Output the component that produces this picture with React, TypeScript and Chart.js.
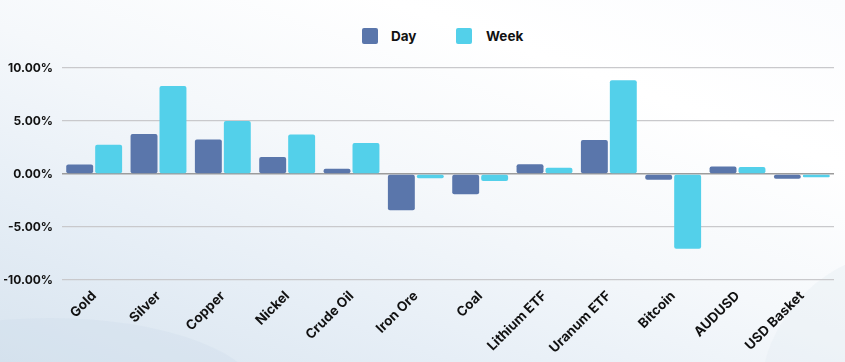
import React, { useEffect, useRef } from "react";
import { Chart, registerables } from "chart.js";

Chart.register(...registerables);

const categories = ["Gold", "Silver", "Copper", "Nickel", "Crude Oil", "Iron Ore", "Coal", "Lithium ETF", "Uranum ETF", "Bitcoin", "AUDUSD", "USD Basket"];
const dayValues = [0.89, 3.77, 3.26, 1.61, 0.49, -3.42, -1.92, 0.92, 3.2, -0.55, 0.7, -0.45];
const weekValues = [2.77, 8.3, 5.0, 3.73, 2.93, -0.39, -0.67, 0.58, 8.84, -7.05, 0.67, -0.3];
const yTicks = [-10, -5, 0, 5, 10];

const DAY_COLOR = "#5a76ab";
const WEEK_COLOR = "#53d0ea";
const FONT = "Inter, 'Noto Sans', sans-serif";

export default function App() {
  const ref = useRef<HTMLCanvasElement | null>(null);

  useEffect(() => {
    if (!ref.current) return;
    const chart = new Chart(ref.current, {
      type: "bar",
      data: {
        labels: categories,
        datasets: [
          { label: "Day", data: dayValues, backgroundColor: DAY_COLOR, borderRadius: 2, borderSkipped: false, categoryPercentage: 0.9, barPercentage: 0.93 },
          { label: "Week", data: weekValues, backgroundColor: WEEK_COLOR, borderRadius: 2, borderSkipped: false, categoryPercentage: 0.9, barPercentage: 0.93 },
        ],
      },
      options: {
        responsive: false,
        animation: false,
        layout: { padding: { top: 68, right: 11, left: 4, bottom: 0 } },
        plugins: { legend: { display: false }, tooltip: { enabled: false } },
        scales: {
          x: {
            grid: { display: false },
            border: { display: false },
            afterFit: (axis: any) => {
              axis.height = 82;
            },
            ticks: {
              color: "#111",
              font: { family: FONT, size: 13.5, weight: "bold" },
              maxRotation: 45,
              minRotation: 45,
              padding: 0,
            },
          },
          y: {
            min: -10,
            max: 10,
            afterBuildTicks: (axis: any) => {
              axis.ticks = yTicks.map((v) => ({ value: v }));
            },
            afterFit: (axis: any) => {
              axis.width = 58;
            },
            grid: {
              color: (ctx: any) => (ctx.tick && ctx.tick.value === 0 ? "#9c9c9c" : "#c9c9cc"),
              lineWidth: (ctx: any) => (ctx.tick && ctx.tick.value === 0 ? 1.5 : 1.2),
              drawTicks: false,
            },
            border: { display: false },
            ticks: {
              color: "#111",
              font: { family: FONT, size: 12, weight: "bold" },
              padding: 9,
              callback: (v: any) => Number(v).toFixed(2) + "%",
            },
          },
        },
      },
    });
    return () => chart.destroy();
  }, []);

  const legendText: React.CSSProperties = {
    position: "absolute",
    top: 27,
    fontFamily: FONT,
    fontWeight: 700,
    fontSize: 13.5,
    lineHeight: "18px",
    color: "#111",
  };
  const box = (left: number, color: string): React.CSSProperties => ({
    position: "absolute",
    left,
    top: 28,
    width: 16,
    height: 16,
    borderRadius: 2,
    background: color,
  });

  return (
    <div
      style={{
        position: "fixed",
        left: 0,
        top: 0,
        width: 845,
        height: 362,
        overflow: "hidden",
        background: "linear-gradient(20deg, #d8e4ef 0%, #e6eef6 25%, #f5f8fb 50%, #ffffff 75%, #fbfcfe 100%)",
      }}
    >
      <div
        style={{
          position: "absolute",
          left: -160,
          top: 318,
          width: 420,
          height: 160,
          borderRadius: "50%",
          background: "rgba(205,222,235,0.35)",
        }}
      />
      <div
        style={{
          position: "absolute",
          left: 760,
          top: 250,
          width: 300,
          height: 300,
          borderRadius: "50%",
          background: "rgba(225,234,242,0.35)",
        }}
      />
      <div style={box(362, DAY_COLOR)} />
      <div style={{ ...legendText, left: 391 }}>Day</div>
      <div style={box(456, WEEK_COLOR)} />
      <div style={{ ...legendText, left: 486 }}>Week</div>
      <canvas ref={ref} width={845} height={362} style={{ position: "absolute", left: 0, top: 0 }} />
    </div>
  );
}
